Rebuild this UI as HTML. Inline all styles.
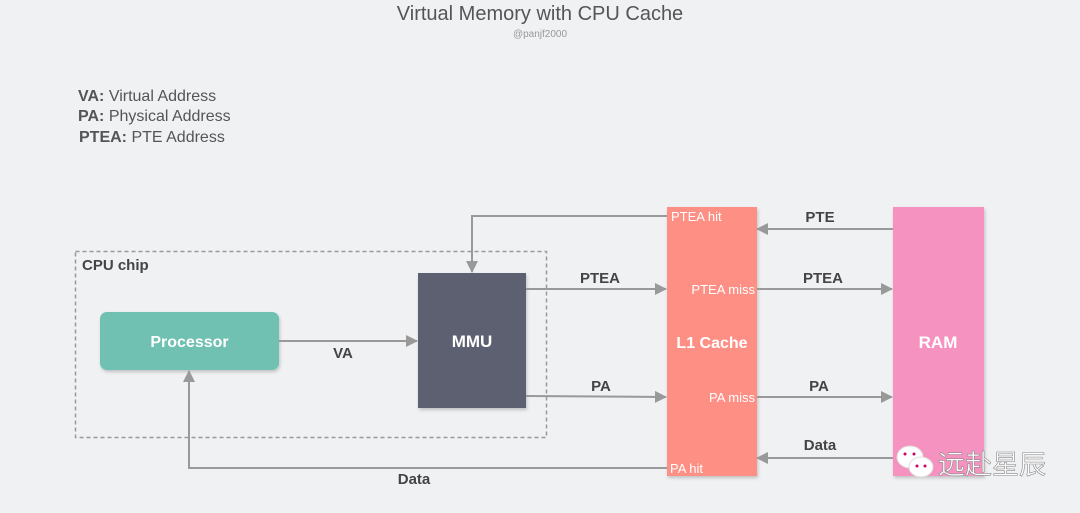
<!DOCTYPE html>
<html><head><meta charset="utf-8"><style>
html,body{margin:0;padding:0;background:#f0f1f3;}
svg{display:block;font-family:"Liberation Sans","Noto Sans CJK SC",sans-serif;}
.b{font-weight:bold;fill:#444;font-size:15px;}
.w{fill:#fff;font-size:13px;}
</style></head><body>
<svg width="1080" height="513" viewBox="0 0 1080 513">
<defs>
<marker id="a" markerWidth="12" markerHeight="12" refX="11" refY="6" orient="auto" markerUnits="userSpaceOnUse">
<path d="M0,0 L12,6 L0,12 Z" fill="#999"/></marker>
<filter id="s" x="-10%" y="-10%" width="130%" height="130%"><feDropShadow dx="1" dy="2" stdDeviation="1.5" flood-color="#000" flood-opacity="0.2"/></filter>
</defs>
<rect width="1080" height="513" fill="#f0f1f3"/>
<text x="540" y="20" text-anchor="middle" font-size="20" fill="#555">Virtual Memory with CPU Cache</text>
<text x="540" y="37" text-anchor="middle" font-size="10" fill="#999">@panjf2000</text>
<g font-size="16" fill="#555">
<text x="78" y="101"><tspan font-weight="bold">VA:</tspan> Virtual Address</text>
<text x="78" y="121"><tspan font-weight="bold">PA:</tspan> Physical Address</text>
<text x="79" y="142"><tspan font-weight="bold">PTEA:</tspan> PTE Address</text>
</g>
<rect x="75.5" y="251.5" width="471" height="186" fill="none" stroke="#999" stroke-width="1.5" stroke-dasharray="4,3"/>
<text x="82" y="270" class="b" font-size="16">CPU chip</text>
<rect x="100" y="312" width="179" height="58" rx="7" fill="#6fc1b1" filter="url(#s)"/>
<text x="189.5" y="347" text-anchor="middle" fill="#fff" font-weight="bold" font-size="16">Processor</text>
<rect x="418" y="273" width="108" height="135" fill="#5d616f" filter="url(#s)"/>
<text x="472" y="347" text-anchor="middle" fill="#fff" font-weight="bold" font-size="17">MMU</text>
<rect x="667" y="207" width="90" height="269" fill="#fe8f85" filter="url(#s)"/>
<text x="712" y="348" text-anchor="middle" fill="#fff" font-weight="bold" font-size="16">L1 Cache</text>
<rect x="893" y="207" width="91" height="269" fill="#f592c0" filter="url(#s)"/>
<text x="938" y="348" text-anchor="middle" fill="#fff" font-weight="bold" font-size="17">RAM</text>
<g stroke="#999" stroke-width="2" fill="none">
<polyline points="667,216 472,216 472,272" marker-end="url(#a)"/>
<line x1="893" y1="229" x2="757" y2="229" marker-end="url(#a)"/>
<line x1="526" y1="289" x2="666" y2="289" marker-end="url(#a)"/>
<line x1="757" y1="289" x2="892" y2="289" marker-end="url(#a)"/>
<line x1="279" y1="341" x2="417" y2="341" marker-end="url(#a)"/>
<line x1="526" y1="396" x2="666" y2="397" marker-end="url(#a)"/>
<line x1="757" y1="397" x2="892" y2="397" marker-end="url(#a)"/>
<line x1="893" y1="458" x2="757" y2="458" marker-end="url(#a)"/>
<polyline points="667,468 189,468 189,371" marker-end="url(#a)"/>
</g>
<text x="820" y="222" text-anchor="middle" class="b">PTE</text>
<text x="600" y="283" text-anchor="middle" class="b">PTEA</text>
<text x="823" y="283" text-anchor="middle" class="b">PTEA</text>
<text x="343" y="358" text-anchor="middle" class="b">VA</text>
<text x="601" y="391" text-anchor="middle" class="b">PA</text>
<text x="819" y="391" text-anchor="middle" class="b">PA</text>
<text x="820" y="450" text-anchor="middle" class="b">Data</text>
<text x="414" y="484" text-anchor="middle" class="b">Data</text>
<text x="671" y="221" class="w">PTEA hit</text>
<text x="755" y="294" text-anchor="end" class="w">PTEA miss</text>
<text x="755" y="402" text-anchor="end" class="w">PA miss</text>
<text x="670" y="473" class="w">PA hit</text>
<g fill="#fff" stroke="#ddd" stroke-width="1">
<ellipse cx="910" cy="457" rx="13" ry="11"/>
<ellipse cx="921" cy="467" rx="12" ry="10"/>
</g>
<g fill="#c06">
<circle cx="905" cy="454" r="1.5"/><circle cx="914" cy="454" r="1.5"/>
<circle cx="917" cy="466" r="1.5"/><circle cx="925" cy="466" r="1.5"/>
</g>
<text x="938" y="474" font-size="27" fill="#fff" stroke="#888" stroke-width="0.6">远赴星辰</text>
</svg>
</body></html>
